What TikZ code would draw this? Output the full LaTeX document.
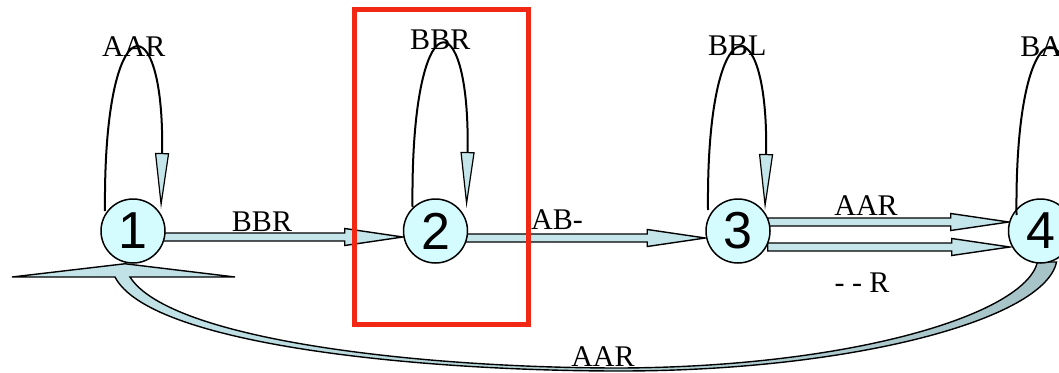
\documentclass[tikz,border=0pt]{standalone}
\usepackage{fontspec}
\setmainfont{Liberation Serif}
\newfontfamily\statefont{Liberation Sans}
\usepackage{tikz}
\usetikzlibrary{positioning}
\usetikzlibrary{calc}
\usetikzlibrary{arrows.meta}
\usetikzlibrary{backgrounds}
\definecolor{statefill}{HTML}{D4FCFF}
\definecolor{arrowfill}{HTML}{C4E6EA}
\definecolor{arrowdark}{HTML}{A6C3C7}
\definecolor{markred}{HTML}{F02814}
\tikzset{state/.style={
		circle,
		draw,
		line width=1.5pt,
		fill=statefill,
		minimum size=64pt,
		inner sep=0pt,
		font=\statefont\fontsize{52}{52}\selectfont,
	}
}
\tikzset{selfloop/.style={
		line width=2pt,
		-{Triangle[length=56pt, width=14pt, fill=arrowfill, line width=1.2pt]},
	}
}
\tikzset{blockarr/.style={
		draw,
		line width=1.4pt,
		fill=arrowfill,
		line join=miter,
	}
}
\tikzset{backarc/.style={
		draw,
		line width=1.4pt,
		left color=arrowfill,
		right color=arrowdark,
	}
}
\tikzset{lbl/.style={
		inner sep=0pt,
		font=\fontsize{30}{30}\selectfont,
	}
}
\newcommand{\shafthw}{4}
\newcommand{\headhw}{8.5}
\newcommand{\headlen}{58}
% horizontal block arrow: #1 tail, #2 tip
\newcommand{\blockarrow}[2]{%
	\draw[blockarr] ($(#1)+(0,-\shafthw)$) -- ($(#2)+(-\headlen,-\shafthw)$) -- ($(#2)+(-\headlen,-\headhw)$) -- (#2) -- ($(#2)+(-\headlen,\headhw)$) -- ($(#2)+(-\headlen,\shafthw)$) -- ($(#1)+(0,\shafthw)$) -- cycle;
}

\begin{document}
\begin{tikzpicture}[x=1pt, y=-1pt, node distance=237pt]
\useasboundingbox (0,0) rectangle (1059,372);

% states
\node[state] (n1) at (133,231) {1};
\node[state, right = of n1] (n2) {2};
\node[state, right = of n2] (n3) {3};
\node[state, right = of n3] (n4) {4};

\coordinate (t12) at ($(n1.east)+(-3,6)$);
\coordinate (h12) at ($(n2.west)+(0,6)$);
\coordinate (t23) at ($(n2.east)+(-3,7)$);
\coordinate (h23) at ($(n3.west)+(0,7)$);
\coordinate (t34a) at ($(n3.east)+(-3,-9)$);
\coordinate (h34a) at ($(n4.west)+(1,-9)$);
\coordinate (t34b) at ($(n3.east)+(-3,16)$);
\coordinate (h34b) at ($(n4.west)+(2,16)$);

\begin{pgfonlayer}{background}
\blockarrow{t12}{h12}
\blockarrow{t23}{h23}
\blockarrow{t34a}{h34a}
\blockarrow{t34b}{h34b}

% 4 back to 1
\draw[backarc] ($(n1)+(-3,46)$) -- ($(n1)+(102,46)$) -- ($(n1.south)+(-8,0)$) -- ($(n1)+(-121,46)$) -- ($(n1)+(-18,46)$)
	.. controls +(35,68) and +(-200,0) .. (620,371)
	.. controls +(230,0) and +(-12,58) .. ($(n4)+(16,31)$)
	-- ($(n4)+(-3,31)$)
	.. controls +(-13,53) and +(230,-1) .. (620,368)
	.. controls +(-200,0) and +(40,63) .. ($(n1)+(-3,46)$) -- cycle;
\end{pgfonlayer}

% self loops
\draw[selfloop] ([shift={(-28,-20)}]n1.center) .. controls +(-2,-208) and +(4,-208) .. ([shift={(28,-22)}]n1.center) node[lbl, pos=0.5, above=-3pt] {AAR};
\draw[selfloop] ([shift={(-23,-24)}]n2.center) .. controls +(-2,-210) and +(4,-210) .. ([shift={(31,-23)}]n2.center) node[lbl, pos=0.5, above=-1pt] {BBR};
\draw[selfloop] ([shift={(-30,-21)}]n3.center) .. controls +(-2,-208) and +(4,-208) .. ([shift={(27,-21)}]n3.center) node[lbl, pos=0.5, above=-3pt] {BBL};
\draw[selfloop] ([shift={(-24,-16)}]n4.center) .. controls +(-2,-212) and +(4,-212) .. ([shift={(34,-18)}]n4.center) node[lbl, pos=0.5, above=-3pt] {BA-};

% edge labels
\node[lbl] (l12) at (262,222) {BBR};
\node[lbl] (l23) at (557,220) {AB-};
\node[lbl] (l34a) at (866,206) {AAR};
\node[lbl] (l34b) at (862,283) {- - R};
\node[lbl] (l41) at (603,357) {AAR};

% highlight
\draw[markred, line width=4.5pt] (354.5,9.5) rectangle (528.5,324.5);

\end{tikzpicture}
\end{document}
